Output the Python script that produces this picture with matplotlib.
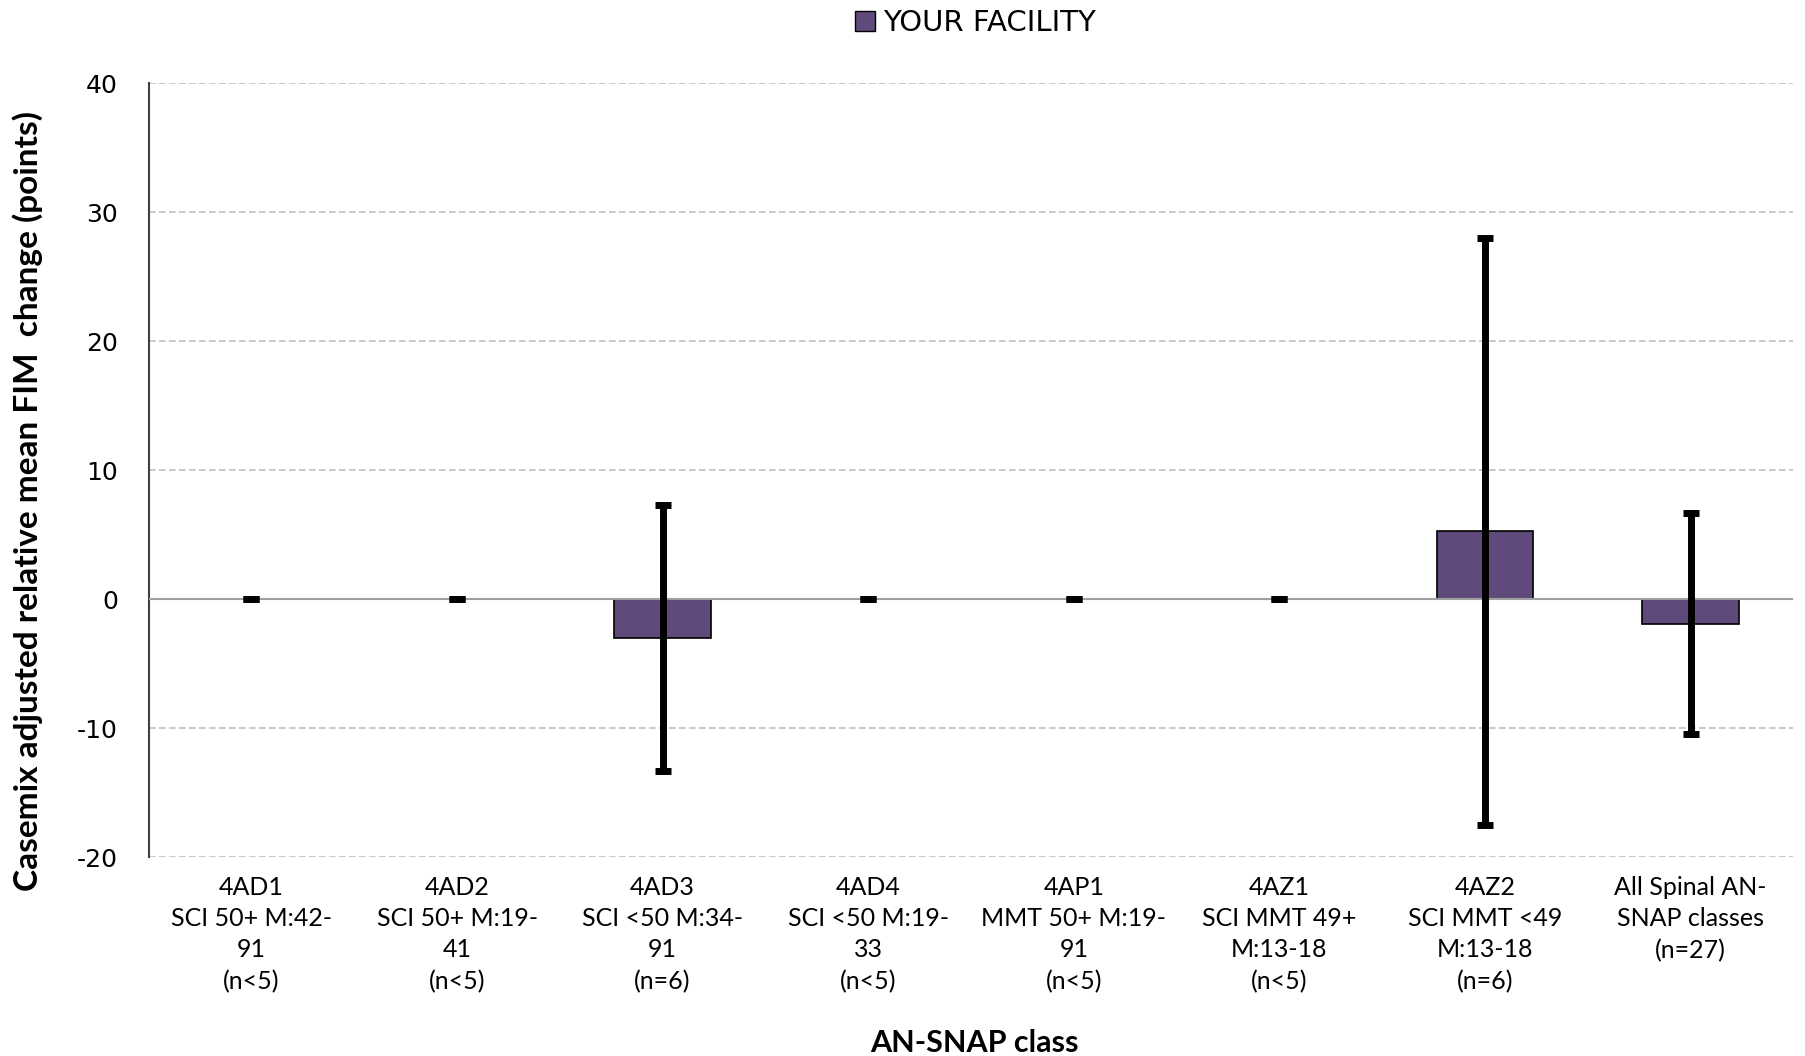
import numpy as np
import matplotlib
matplotlib.use('Agg')
import matplotlib.pyplot as plt
from matplotlib.patches import Patch

# AN-SNAP classes and values
classes = ['4AD1\nSCI 50+ M:42-\n91\n(n<5)',
           '4AD2\nSCI 50+ M:19-\n41\n(n<5)',
           '4AD3\nSCI <50 M:34-\n91\n(n=6)',
           '4AD4\nSCI <50 M:19-\n33\n(n<5)',
           '4AP1\nMMT 50+ M:19-\n91\n(n<5)',
           '4AZ1\nSCI MMT 49+\nM:13-18\n(n<5)',
           '4AZ2\nSCI MMT <49\nM:13-18\n(n=6)',
           'All Spinal AN-\nSNAP classes\n(n=27)']
mean_change = [0, 0, -3.0, 0, 0, 0, 5.25, -1.9]
ci_half = [0, 0, 10.3, 0, 0, 0, 22.75, 8.6]

bar_color = '#604A7B'
plt.rcParams['axes.unicode_minus'] = False

fig = plt.figure(figsize=(18.06, 10.56), dpi=100)
ax = fig.add_axes([0.0823, 0.1884, 0.9107, 0.733])

x = np.arange(len(classes))
ax.bar(x, mean_change, width=0.47, color=bar_color, edgecolor='black', linewidth=1.2, zorder=3)
ax.errorbar(x, mean_change, yerr=ci_half, fmt='none', ecolor='black',
            elinewidth=5, capsize=6, capthick=5, zorder=4)

ax.axhline(0, color='#A0A0A0', linewidth=1.5, zorder=3.5)

ax.set_xlim(-0.5, len(classes) - 0.5)
ax.set_ylim(-20, 40)
ax.set_yticks(np.arange(-20, 41, 10))
ax.yaxis.grid(True, linestyle=(0, (4, 2)), color='#C0C0C0', linewidth=1.2, zorder=0)

ax.set_xticks(x)
ax.set_xticklabels(classes, fontsize=18, family='Lato', linespacing=1.42)
ax.tick_params(axis='x', length=0, pad=14)
ax.tick_params(axis='y', length=0, pad=22, labelsize=18)

for s in ['top', 'right', 'bottom']:
    ax.spines[s].set_visible(False)
ax.spines['left'].set_color('#404040')
ax.spines['left'].set_linewidth(1.5)

ax.set_ylabel('Casemix adjusted relative mean FIM  change (points)', fontsize=24,
              fontweight='bold', family='Lato')
ax.set_xlabel('AN-SNAP class', fontsize=22, fontweight='bold', family='Lato')
ax.yaxis.set_label_coords(-0.064, 0.46)
ax.xaxis.set_label_coords(0.502, -0.222)

handle = Patch(facecolor=bar_color, edgecolor='black', label='YOUR FACILITY')
fig.legend(handles=[handle], loc='center', bbox_to_anchor=(0.540, 0.978), frameon=False,
           handlelength=0.7, handleheight=0.7, handletextpad=0.25,
           prop={'family': 'DejaVu Sans', 'size': 21})

plt.savefig('out.png', dpi=100)
